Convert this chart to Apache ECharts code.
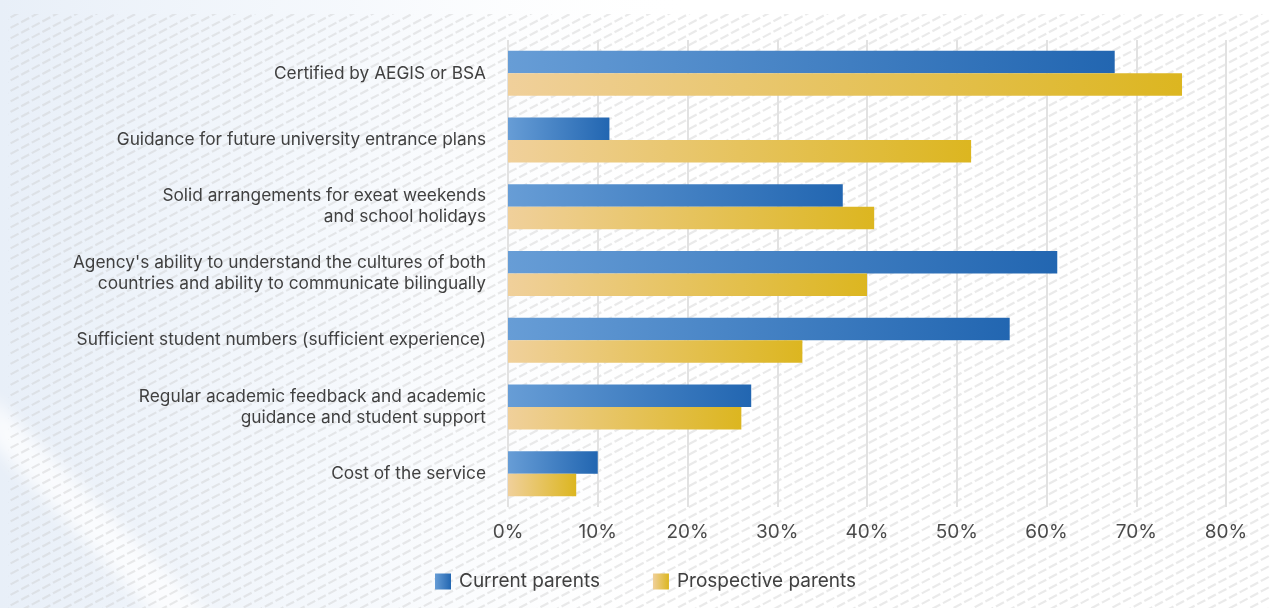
<!DOCTYPE html>
<html>
<head>
<meta charset="utf-8">
<title>Agency selection criteria</title>
<script src="https://cdn.jsdelivr.net/npm/echarts@6/dist/echarts.min.js"></script>
<style>
  html, body { margin: 0; padding: 0; background: #fff; }
  #chart { width: 1271px; height: 608px; }
</style>
</head>
<body>
<div id="chart"></div>
<script>
// Survey results: share of parents citing each factor
const categories = [
  'Certified by AEGIS or BSA',
  'Guidance for future university entrance plans',
  'Solid arrangements for exeat weekends\nand school holidays',
  "Agency's ability to understand the cultures of both\ncountries and ability to communicate bilingually",
  'Sufficient student numbers (sufficient experience)',
  'Regular academic feedback and academic\nguidance and student support',
  'Cost of the service'
];
const currentParents = [67.6, 11.3, 37.3, 61.2, 55.9, 27.1, 10.0];
const prospectiveParents = [75.1, 51.6, 40.8, 40.0, 32.8, 26.0, 7.6];
const seriesNames = ['Current parents', 'Prospective parents'];
const xTicks = { min: 0, max: 80, step: 10 };

// Decorative backdrop: soft blue wash with diagonal dashed hatching
function paintBackdrop(w, h) {
  const c = document.createElement('canvas');
  c.width = w; c.height = h;
  const g = c.getContext('2d');
  g.fillStyle = '#ffffff';
  g.fillRect(0, 0, w, h);
  const wash = g.createLinearGradient(0, 0, 700, 0);
  wash.addColorStop(0, 'rgba(232,239,248,1)');
  wash.addColorStop(0.5, 'rgba(243,247,252,0.8)');
  wash.addColorStop(1, 'rgba(255,255,255,0)');
  g.fillStyle = wash;
  g.fillRect(0, 0, w, h);
  // lighter diagonal band in the lower left corner
  g.save();
  g.filter = 'blur(8px)';
  g.fillStyle = 'rgba(255,255,255,0.75)';
  g.beginPath();
  g.moveTo(-10, 395); g.lineTo(-10, 440); g.lineTo(160, 620); g.lineTo(215, 620);
  g.closePath(); g.fill();
  g.restore();
  // hatch
  g.save();
  g.beginPath();
  g.rect(8, 14, w - 8, h - 14);
  g.clip();
  g.strokeStyle = 'rgba(200,200,200,0.38)';
  g.lineWidth = 2.2;
  g.setLineDash([9, 3]);
  const ang = Math.tan(28 * Math.PI / 180);
  for (let y0 = -40; y0 < h + w * ang + 20; y0 += 10.5) {
    g.beginPath();
    g.moveTo(0, y0);
    g.lineTo(w, y0 - w * ang);
    g.stroke();
  }
  g.restore();
  return c.toDataURL();
}
document.getElementById('chart').style.background =
  'url(' + paintBackdrop(1271, 608) + ') no-repeat';

function grad(from, to) {
  return new echarts.graphic.LinearGradient(0, 0, 1, 0, [
    { offset: 0, color: from },
    { offset: 1, color: to }
  ]);
}

const chart = echarts.init(document.getElementById('chart'), null, { renderer: 'canvas' });
const textColor = '#404040';
const font = 'Inter, "Noto Sans", sans-serif';

chart.setOption({
  backgroundColor: 'transparent',
  animation: false,
  textStyle: { fontFamily: font },
  grid: { left: 508, right: 45, top: 40, bottom: 101, containLabel: false },
  legend: {
    data: seriesNames,
    top: 567,
    left: 430,
    icon: 'rect',
    itemWidth: 16,
    itemHeight: 16,
    itemGap: 53,
    textStyle: { fontSize: 19, color: textColor, fontFamily: font, padding: [0, 0, 0, 3] }
  },
  xAxis: {
    type: 'value',
    min: xTicks.min,
    max: xTicks.max,
    interval: xTicks.step,
    axisLine: { show: false },
    axisTick: { show: false },
    axisLabel: {
      formatter: '{value}%',
      fontSize: 19,
      color: '#4a4a4a',
      margin: 16,
      fontFamily: font
    },
    splitLine: { show: true, lineStyle: { color: '#e2e2e2', width: 2 } }
  },
  yAxis: {
    type: 'category',
    data: categories,
    inverse: true,
    axisLine: { show: false },
    axisTick: { show: false },
    axisLabel: {
      fontSize: 17.3,
      color: textColor,
      margin: 22,
      lineHeight: 21,
      align: 'right',
      fontFamily: font
    }
  },
  series: [
    {
      name: seriesNames[0],
      type: 'bar',
      data: currentParents,
      barWidth: 22.5,
      barGap: '0%',
      itemStyle: { color: grad('#679dd6', '#2266b1') }
    },
    {
      name: seriesNames[1],
      type: 'bar',
      data: prospectiveParents,
      barWidth: 22.5,
      barGap: '0%',
      itemStyle: { color: grad('#f0d09b', '#dcb620') }
    }
  ]
});
</script>
</body>
</html>
